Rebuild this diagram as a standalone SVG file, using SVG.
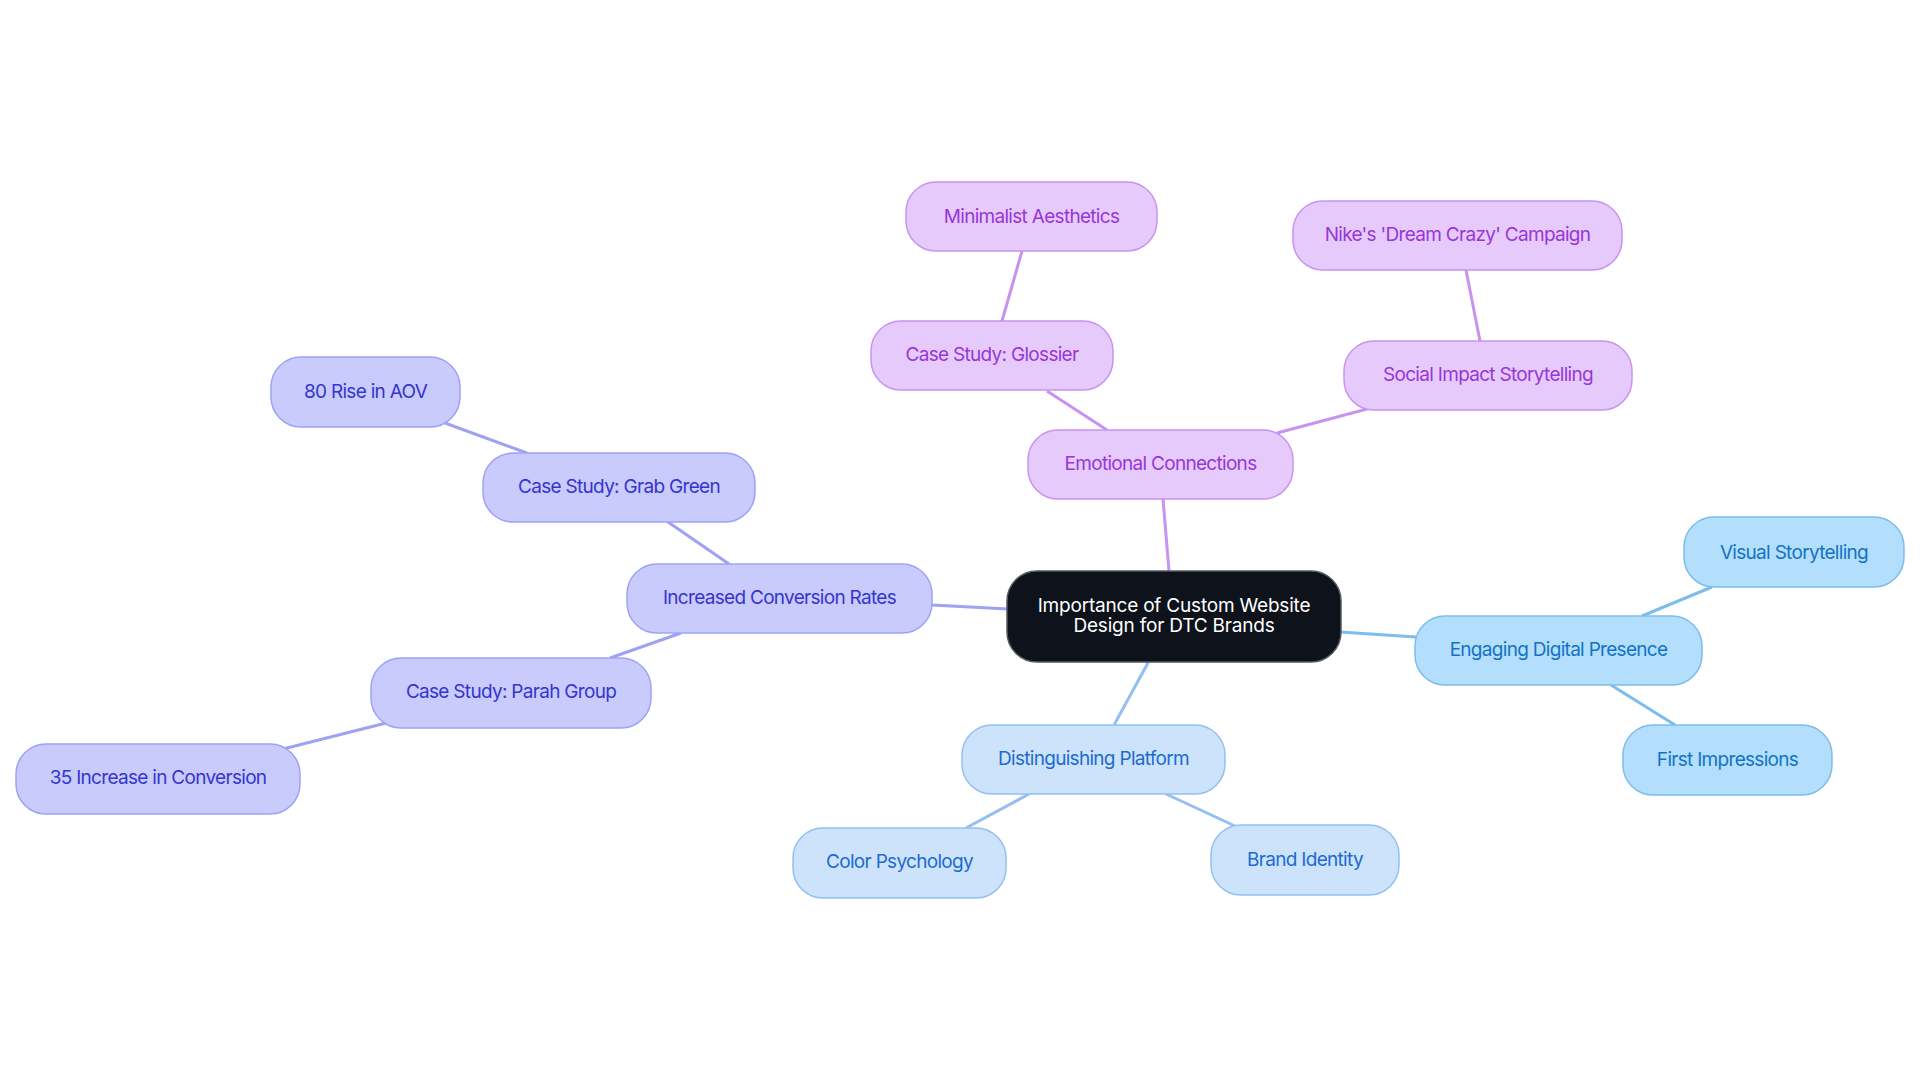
<svg xmlns="http://www.w3.org/2000/svg" width="1920" height="1083" viewBox="0 0 1920 1083">
<style>
text{font-family:Inter,"Liberation Sans",sans-serif;font-size:19px;text-anchor:middle;letter-spacing:-0.7px}
.p rect{fill:#E6CAFC;stroke:#C792F0;stroke-width:1.5}
.p text{fill:#9836D8}
.i rect{fill:#C8CBFC;stroke:#9EA2F3;stroke-width:1.5}
.i text{fill:#3535CF}
.l rect{fill:#CDE3FB;stroke:#93C0F0;stroke-width:1.5}
.l text{fill:#1C6BD0}
.s rect{fill:#B3DEFC;stroke:#7DBDEB;stroke-width:1.5}
.s text{fill:#1273C6}
.c rect{fill:#0D121B;stroke:#555B63;stroke-width:1.5}
.c text{fill:#FFFFFF;letter-spacing:-0.2px}
#edges line{stroke-width:3;fill:none}
.ep{stroke:#C792F0}.ei{stroke:#9EA2F3}.el{stroke:#93C0F0}.es{stroke:#7DBDEB}
</style>
<rect width="1920" height="1083" fill="#FFFFFF"/>
<g id="edges">
<line class="ep" x1="1163" y1="499" x2="1169" y2="571"/>
<line class="ep" x1="1107" y1="430" x2="1047" y2="391"/>
<line class="ep" x1="1002" y1="321" x2="1022" y2="251"/>
<line class="ep" x1="1277" y1="433" x2="1367" y2="409"/>
<line class="ep" x1="1480" y1="341" x2="1466" y2="270"/>
<line class="ei" x1="932" y1="605" x2="1008" y2="609"/>
<line class="ei" x1="729" y1="564" x2="668" y2="522"/>
<line class="ei" x1="527" y1="453" x2="445" y2="423"/>
<line class="ei" x1="681" y1="633" x2="610" y2="658"/>
<line class="ei" x1="386" y1="723" x2="283" y2="749"/>
<line class="el" x1="1149" y1="661" x2="1114" y2="725"/>
<line class="el" x1="1029" y1="794" x2="966" y2="828"/>
<line class="el" x1="1166" y1="794" x2="1235" y2="826"/>
<line class="es" x1="1340" y1="632" x2="1416" y2="637"/>
<line class="es" x1="1642" y1="616" x2="1712" y2="587"/>
<line class="es" x1="1611" y1="685" x2="1675" y2="725"/>
</g>
<g id="center" class="c"><rect x="1007" y="571" width="334" height="91" rx="30"/><text x="1174" y="611.5">Importance of Custom Website</text><text x="1174" y="632">Design for DTC Brands</text></g>
<g id="emotional" class="p"><rect x="1028" y="430" width="265" height="69" rx="30"/><text x="1160.5" y="470">Emotional Connections</text></g>
<g id="glossier" class="p"><rect x="871" y="321" width="242" height="69" rx="30"/><text x="992" y="361">Case Study: Glossier</text></g>
<g id="minimalist" class="p"><rect x="906" y="182" width="251" height="69" rx="30"/><text x="1031.5" y="222.5">Minimalist Aesthetics</text></g>
<g id="social" class="p"><rect x="1344" y="341" width="288" height="69" rx="30"/><text x="1488" y="381">Social Impact Storytelling</text></g>
<g id="nike" class="p"><rect x="1293" y="201" width="329" height="69" rx="30"/><text x="1457.5" y="241">Nike's 'Dream Crazy' Campaign</text></g>
<g id="increased" class="i"><rect x="627" y="564" width="305" height="69" rx="30"/><text x="779.5" y="603.5">Increased Conversion Rates</text></g>
<g id="grabgreen" class="i"><rect x="483" y="453" width="272" height="69" rx="30"/><text x="619" y="493">Case Study: Grab Green</text></g>
<g id="aov" class="i"><rect x="271" y="357" width="189" height="70" rx="30"/><text x="365.5" y="398">80 Rise in AOV</text></g>
<g id="parah" class="i"><rect x="371" y="658" width="280" height="70" rx="30"/><text x="511" y="698">Case Study: Parah Group</text></g>
<g id="conv35" class="i"><rect x="16" y="744" width="284" height="70" rx="30"/><text x="158" y="784">35 Increase in Conversion</text></g>
<g id="distinguishing" class="l"><rect x="962" y="725" width="263" height="69" rx="30"/><text x="1093.5" y="765">Distinguishing Platform</text></g>
<g id="color" class="l"><rect x="793" y="828" width="213" height="70" rx="30"/><text x="899.5" y="868">Color Psychology</text></g>
<g id="brand" class="l"><rect x="1211" y="825" width="188" height="70" rx="30"/><text x="1305" y="865.5">Brand Identity</text></g>
<g id="engaging" class="s"><rect x="1415" y="616" width="287" height="69" rx="30"/><text x="1558.5" y="656">Engaging Digital Presence</text></g>
<g id="visual" class="s"><rect x="1684" y="517" width="220" height="70" rx="30"/><text x="1794" y="559">Visual Storytelling</text></g>
<g id="first" class="s"><rect x="1623" y="725" width="209" height="70" rx="30"/><text x="1727.5" y="766">First Impressions</text></g>
</svg>
